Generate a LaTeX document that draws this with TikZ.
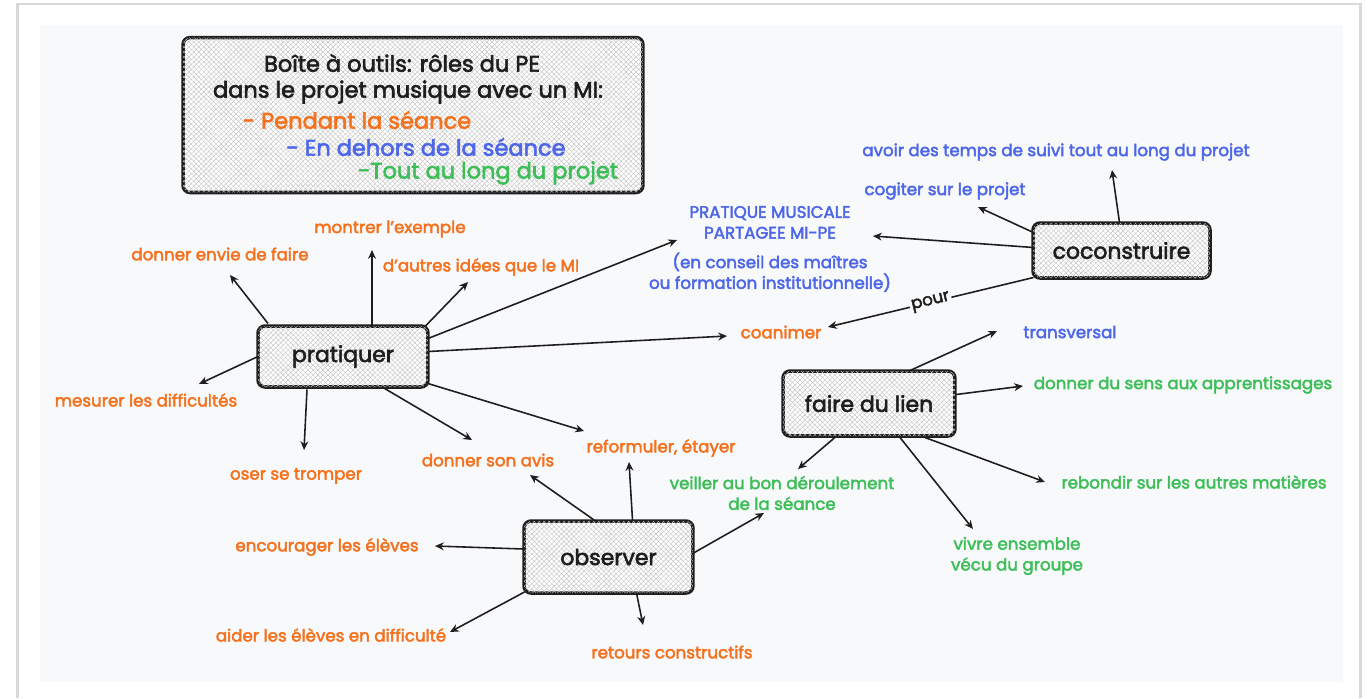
\documentclass[tikz,border=0pt]{standalone}
\usepackage{fontspec}
\setmainfont{Poppins}[FakeBold=2.6]
\usetikzlibrary{arrows.meta,patterns.meta,calc}
\definecolor{orng}{HTML}{F4711E}
\definecolor{blu}{HTML}{4D67E8}
\definecolor{grn}{HTML}{3DBE58}
\definecolor{ink}{HTML}{1E1E1E}
\definecolor{bgc}{HTML}{F8F9FB}
\definecolor{hatch}{HTML}{C4C4C4}
\begin{document}
\begin{tikzpicture}[x=0.02cm,y=-0.02cm,
  box/.style={draw=ink,line width=2pt,rounded corners=4pt,fill=white,
    postaction={pattern={Lines[angle=45,distance=2pt,line width=0.25pt]},pattern color=hatch},
    postaction={pattern={Lines[angle=-45,distance=2pt,line width=0.25pt]},pattern color=hatch},
    font=\fontsize{12.5}{15}\selectfont, text=ink, inner sep=0pt},
  lab/.style={font=\fontsize{9.5}{11.8}\selectfont, inner sep=1pt, align=center},
  ol/.style={lab,text=orng},
  bl/.style={lab,text=blu},
  gl/.style={lab,text=grn},
  ttl/.style={font=\fontsize{12.8}{15}\selectfont, inner sep=0pt},
  arr/.style={draw=ink,line width=0.9pt,-{Stealth[length=5pt,width=4.5pt]}},
]
\useasboundingbox (0,0) rectangle (1370,698);
% card
\fill[white] (0,0) rectangle (1370,698);
\fill[gray!30] (16,3) rectangle (1362,698);
\fill[white] (19,5) rectangle (1359,698);
\fill[bgc] (40,25) rectangle (1343,682);

% title box
\node[box, minimum width=9.2cm, minimum height=3.1cm] (title) at (413,115) {};
\node[ttl, text=ink] (t1) at (402,63) {Boîte à outils: rôles du PE};
\node[ttl, text=ink] (t2) at (408,92) {dans le projet musique avec un MI:};
\node[ttl, text=orng] (t3) at (357,120) {- Pendant la séance};
\node[ttl, text=blu] (t4) at (426,147) {- En dehors de la séance};
\node[ttl, text=grn] (t5) at (488,173) {-Tout au long du projet};

% main boxes
\node[box, minimum width=3.4cm, minimum height=1.22cm] (prat) at (343,356.5) {pratiquer};
\node[box, minimum width=3.54cm, minimum height=1.1cm] (coco) at (1121.5,250.5) {coconstruire};
\node[box, minimum width=3.44cm, minimum height=1.3cm] (lien) at (869,403.5) {faire du lien};
\node[box, minimum width=3.38cm, minimum height=1.44cm] (obs) at (608.5,557) {observer};

% labels
\node[ol] (envie) at (220,254) {donner envie de faire};
\node[ol] (montrer) at (390,229) {montrer l'exemple};
\node[ol] (autres) at (481,267) {d'autres idées que le MI};
\node[ol] (mesurer) at (146,400) {mesurer les difficultés};
\node[ol] (oser) at (296,476) {oser se tromper};
\node[ol] (avis) at (488,460) {donner son avis};
\node[ol] (reform) at (661,448) {reformuler, étayer};
\node[ol] (coan) at (781,332) {coanimer};
\node[ol] (encour) at (327,547) {encourager les élèves};
\node[ol] (aider) at (331,635) {aider les élèves en difficulté};
\node[ol] (retours) at (672,652) {retours constructifs};
\node[bl] (pm) at (770,249) {PRATIQUE MUSICALE\\PARTAGEE MI-PE\\[5pt](en conseil des maîtres\\ou formation institutionnelle)};
\node[bl] (avoir) at (1056,152) {avoir des temps de suivi tout au long du projet};
\node[bl] (cogiter) at (945,191) {cogiter sur le projet};
\node[bl] (transv) at (1070,332) {transversal};
\node[gl] (sens) at (1183,385) {donner du sens aux apprentissages};
\node[gl] (rebond) at (1194,482) {rebondir sur les autres matières};
\node[gl] (vivre) at (1017,556) {vivre ensemble\\vécu du groupe};
\node[gl] (veiller) at (782,493) {veiller au bon déroulement\\de la séance};

% pratiquer arrows
\draw[arr] ($(prat)+(-75,-33)$) -- ($(envie)+(10,21)$);
\draw[arr] ($(prat)+(29,-30)$) -- ($(montrer)+(-18,21)$);
\draw[arr] ($(prat)+(82,-30)$) -- ($(autres)+(-13,15)$);
\draw[arr] ($(prat)+(85,-18)$) -- ($(pm)+(-93,-9)$);
\draw[arr] ($(prat)+(85,-5)$) -- ($(coan)+(-54,4)$);
\draw[arr] ($(prat)+(85,27)$) -- ($(reform)+(-77,-17)$);
\draw[arr] ($(prat)+(40,31)$) -- ($(avis)+(-16,-20)$);
\draw[arr] ($(prat)+(-36,33)$) -- ($(oser)+(8,-26)$);
\draw[arr] ($(prat)+(-85,0)$) -- ($(mesurer)+(53,-16)$);

% coconstruire arrows
\draw[arr] ($(coco)+(-2,-28)$) -- ($(avoir)+(56,18)$);
\draw[arr] ($(coco)+(-88,-18)$) -- ($(cogiter)+(33,16)$);
\draw[arr] ($(coco)+(-88,-3)$) -- ($(pm)+(103,-13)$);
\draw[arr] ($(coco)+(-88,27)$) -- node[pos=0.5, sloped, fill=bgc, inner sep=1pt, text=ink, font=\fontsize{9.5}{10}\selectfont] (pour) {pour} ($(coan)+(47,-5)$);

% faire du lien arrows
\draw[arr] ($(lien)+(41,-33)$) -- ($(transv)+(-73,-1)$);
\draw[arr] ($(lien)+(87,-9)$) -- ($(sens)+(-160,1)$);
\draw[arr] ($(lien)+(56,34)$) -- ($(rebond)+(-149,0)$);
\draw[arr] ($(lien)+(31,34)$) -- ($(vivre)+(-44,-27)$);
\draw[arr] ($(lien)+(-33,33)$) -- ($(veiller)+(16,-24)$);

% observer arrows
\draw[arr] ($(obs)+(-13,-36)$) -- ($(avis)+(42,15)$);
\draw[arr] ($(obs)+(24,-37)$) -- ($(reform)+(-32,14)$);
\draw[arr] ($(obs)+(85,-4)$) -- ($(veiller)+(-18,20)$);
\draw[arr] ($(obs)+(-85,-8)$) -- ($(encour)+(108,-1)$);
\draw[arr] ($(obs)+(-84,35)$) -- ($(aider)+(119,-3)$);
\draw[arr] ($(obs)+(28,36)$) -- ($(retours)+(-29,-27)$);
\end{tikzpicture}
\end{document}
